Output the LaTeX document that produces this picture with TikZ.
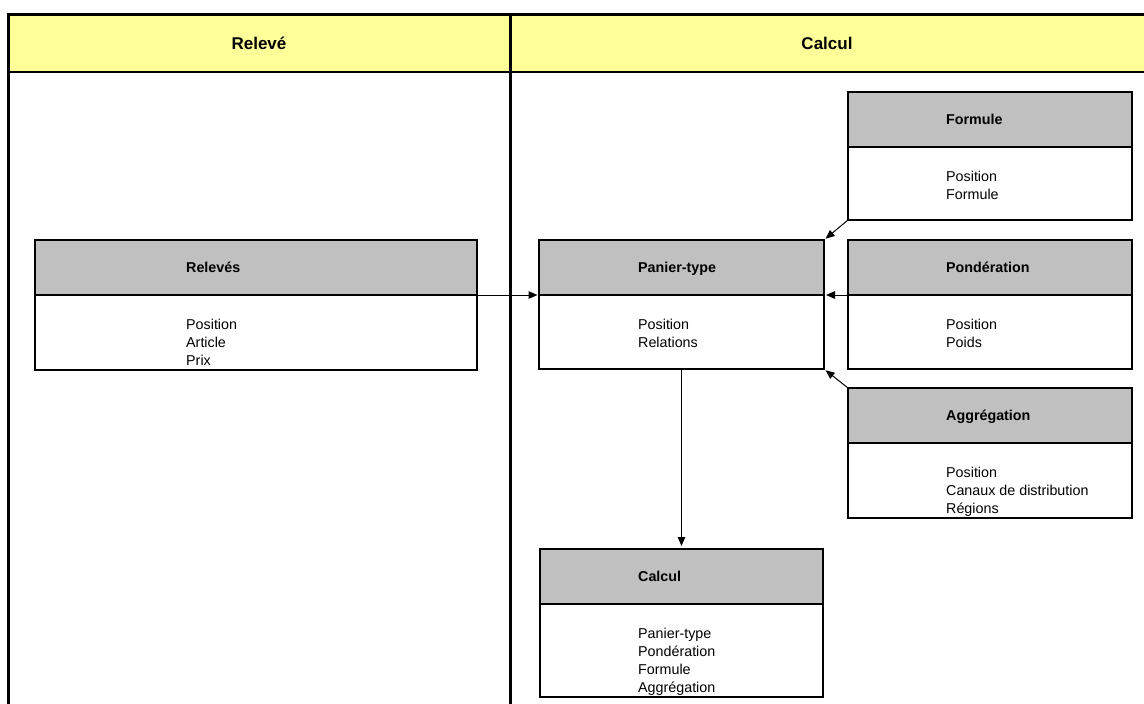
\documentclass[tikz,border=0pt]{standalone}
\usepackage{fontspec}
\setmainfont{Liberation Sans}
\usetikzlibrary{arrows.meta}
\definecolor{hdryellow}{HTML}{FFFF99}
\definecolor{boxgray}{HTML}{C0C0C0}
\begin{document}
\begin{tikzpicture}[x=1pt,y=-1pt,
  boxhead/.style={draw, line width=2pt, fill=boxgray, inner sep=0pt, outer sep=0pt, anchor=north west, minimum height=55pt},
  boxbody/.style={draw, line width=2pt, fill=white, inner sep=0pt, outer sep=0pt, anchor=north west},
  headtxt/.style={font=\fontsize{14.3}{18}\selectfont\bfseries, inner sep=0pt, anchor=base west},
  bodytxt/.style={font=\fontsize{14.3}{18}\selectfont, inner sep=0pt, anchor=north west, align=left},
  coltitle/.style={font=\fontsize{17}{20}\selectfont\bfseries, inner sep=0pt, anchor=base},
  conn/.style={line width=1pt, -{Triangle[length=9pt,width=7.5pt]}}
]
\useasboundingbox (0,0) rectangle (1144,704);
% table frame
\fill[hdryellow] (8,14) rectangle (1144,72);
\draw[line width=3pt] (8,704) -- (8,14) -- (1144,14);
\draw[line width=2.5pt] (8,72) -- (1144,72);
\draw[line width=3pt] (510,14) -- (510,704);
\node[coltitle] (t1) at (259,49) {Relevé};
\node[coltitle] (t2) at (827,49) {Calcul};

% Relevés
\node[boxhead, minimum width=442pt] (relh) at (35,240) {};
\node[boxbody, minimum width=442pt, minimum height=75pt] (relb) at (relh.south west) {};
\node[headtxt] (relht) at (186,272.5) {Relevés};
\node[bodytxt] (relbt) at (186,318.5) {Position\\Article\\Prix};

% Panier-type
\node[boxhead, minimum width=285pt] (panh) at (539,240) {};
\node[boxbody, minimum width=285pt, minimum height=74pt] (panb) at (panh.south west) {};
\node[headtxt] (panht) at (638,272.5) {Panier-type};
\node[bodytxt] (panbt) at (638,318.5) {Position\\Relations};

% Formule
\node[boxhead, minimum width=284pt] (forh) at (848,92) {};
\node[boxbody, minimum width=284pt, minimum height=73pt] (forb) at (forh.south west) {};
\node[headtxt] (forht) at (946,124.5) {Formule};
\node[bodytxt] (forbt) at (946,170.5) {Position\\Formule};

% Pondération
\node[boxhead, minimum width=284pt] (ponh) at (848,240) {};
\node[boxbody, minimum width=284pt, minimum height=74pt] (ponb) at (ponh.south west) {};
\node[headtxt] (ponht) at (946,272.5) {Pondération};
\node[bodytxt] (ponbt) at (946,318.5) {Position\\Poids};

% Aggrégation
\node[boxhead, minimum width=284pt] (aggh) at (848,388) {};
\node[boxbody, minimum width=284pt, minimum height=75pt] (aggb) at (aggh.south west) {};
\node[headtxt] (agght) at (946,420.5) {Aggrégation};
\node[bodytxt] (aggbt) at (946,466.5) {Position\\Canaux de distribution\\Régions};

% Calcul
\node[boxhead, minimum width=283pt] (calh) at (540,549) {};
\node[boxbody, minimum width=283pt, minimum height=93pt] (calb) at (calh.south west) {};
\node[headtxt] (calht) at (638,581.5) {Calcul};
\node[bodytxt] (calbt) at (638,627.5) {Panier-type\\Pondération\\Formule\\Aggrégation};

% connectors
\draw[conn, shorten >=1.5pt] (relh.south east) -- (panh.south west);
\draw[conn, shorten >=2pt] (ponh.south west) -- (panh.south east);
\draw[conn, shorten >=2pt] (forb.south west) -- (panh.north east);
\draw[conn, shorten >=2pt] (aggh.north west) -- (panb.south east);
\draw[conn, shorten >=3pt] (panb.south) -- (calh.north);
\end{tikzpicture}
\end{document}
